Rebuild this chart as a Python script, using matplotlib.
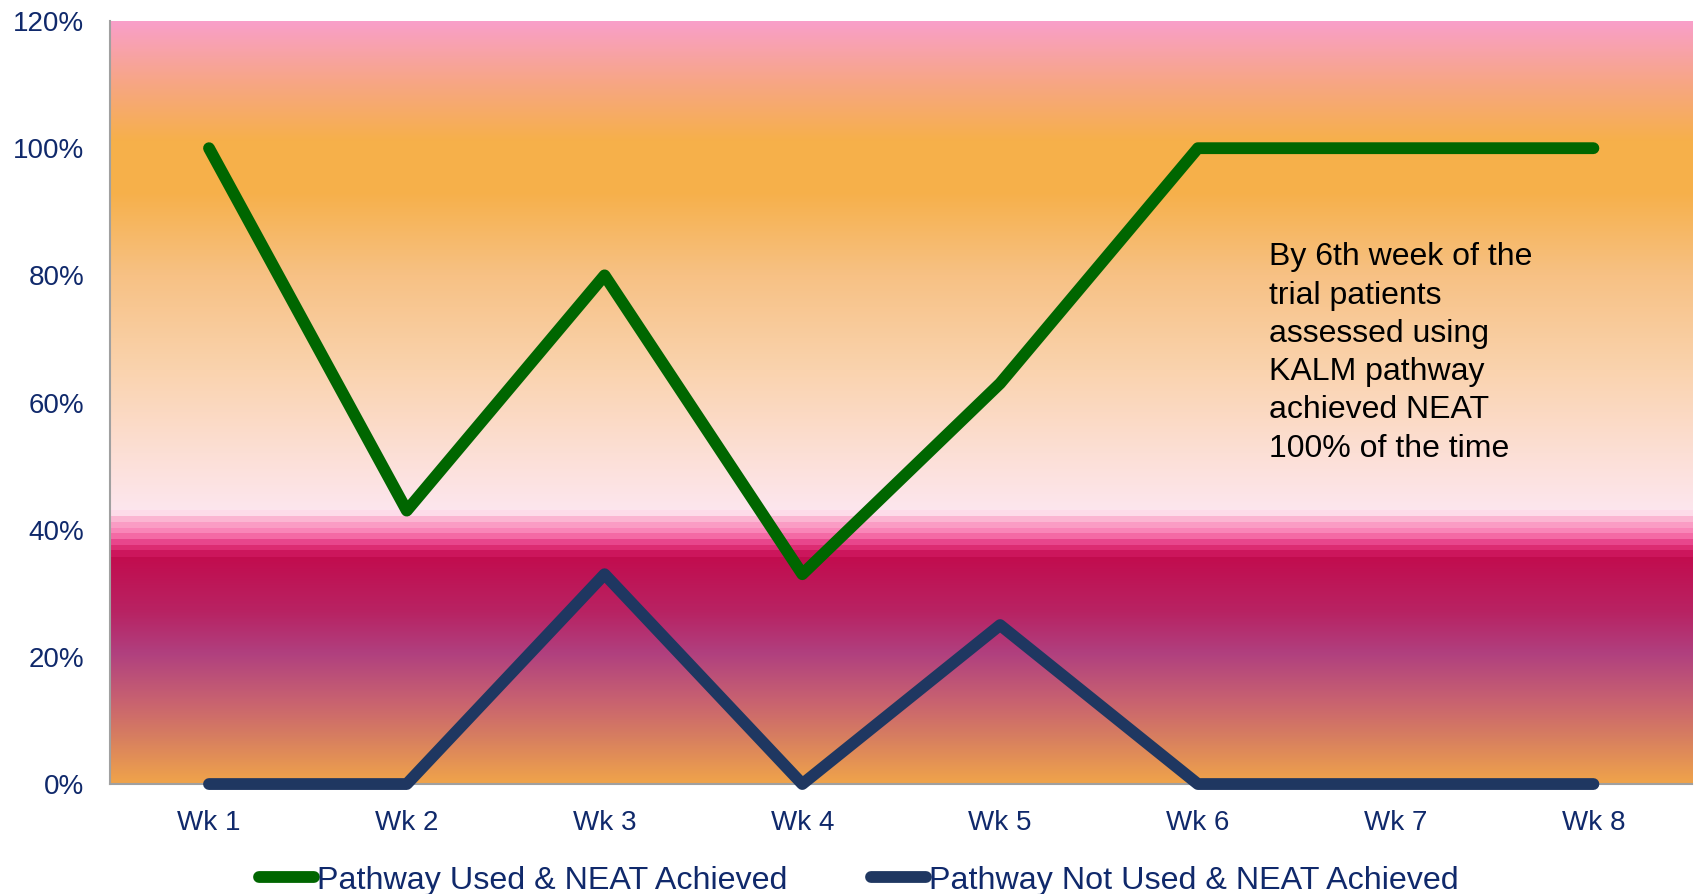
import matplotlib
matplotlib.use("Agg")
import matplotlib.pyplot as plt
import numpy as np
from matplotlib.colors import to_rgb
from matplotlib.lines import Line2D

plt.rcParams['font.family'] = ['Liberation Sans', 'DejaVu Sans']

# data
weeks = ['Wk 1', 'Wk 2', 'Wk 3', 'Wk 4', 'Wk 5', 'Wk 6', 'Wk 7', 'Wk 8']
used_achieved = [100, 43, 80, 33, 63, 100, 100, 100]
not_used_achieved = [0, 0, 33, 0, 25, 0, 0, 0]
series_names = ['Pathway Used & NEAT Achieved', 'Pathway Not Used & NEAT Achieved']
note = "By 6th week of the\ntrial patients\nassessed using\nKALM pathway\nachieved NEAT\n100% of the time"

green = '#006600'
navy = '#1F3761'
tick_col = '#10296B'

# background gradient stops (percent, colour)
stops = [
    (0, '#F0A44A'), (7, '#D8805F'), (13, '#C86270'), (20.5, '#B0407F'),
    (27, '#B82363'), (35.7, '#C20C4E'),
    (35.7, '#CC165C'), (36.7, '#CC165C'), (36.7, '#DC2C72'), (37.6, '#DC2C72'),
    (37.6, '#E8468C'), (38.5, '#E8468C'), (38.5, '#F46AA5'), (39.4, '#F46AA5'),
    (39.4, '#F986B8'), (40.2, '#F986B8'), (40.2, '#FA9CC4'), (41.2, '#FA9CC4'),
    (41.2, '#FBB6D2'), (42.1, '#FBB6D2'), (42.1, '#FDDCE9'), (43.0, '#FDDCE9'),
    (43.0, '#FDE6EE'), (52, '#FCDFD5'), (65, '#FAD3AE'), (80, '#F7C184'),
    (93, '#F6B04A'), (101, '#F6B04A'), (110, '#F7A683'), (120, '#F99FCB'),
]
pos = np.array([s[0] for s in stops])
cols = np.array([to_rgb(s[1]) for s in stops])
yy = np.linspace(0, 120, 1200)
grad = np.stack([np.interp(yy, pos, cols[:, k]) for k in range(3)], axis=-1)
grad = grad[:, None, :]

fig = plt.figure(figsize=(16.94, 8.94), dpi=100)
ax = fig.add_axes([0.065, 0.123, 0.934, 0.8535])

x = np.arange(len(weeks))
ax.imshow(grad, extent=(-0.5, len(weeks) - 0.5, 0, 120), origin='lower',
          aspect='auto', zorder=0, interpolation='nearest')

ax.plot(x, used_achieved, color=green, lw=8.5, solid_capstyle='round',
        solid_joinstyle='round', zorder=3)
ax.plot(x, not_used_achieved, color=navy, lw=8.5, solid_capstyle='round',
        solid_joinstyle='round', zorder=3, clip_on=False)

ax.set_xlim(-0.5, len(weeks) - 0.5)
ax.set_ylim(0, 120)
ax.set_yticks(np.arange(0, 121, 20))
ax.set_yticklabels([f'{v}%' for v in range(0, 121, 20)])
ax.set_xticks(x)
ax.set_xticklabels(weeks)
ax.tick_params(axis='both', length=0, labelsize=20, labelcolor=tick_col)
ax.tick_params(axis='y', pad=18.5)
ax.tick_params(axis='x', pad=19)

for side in ['top', 'right']:
    ax.spines[side].set_visible(False)
for side in ['left', 'bottom']:
    ax.spines[side].set_color('#A0A0A0')
    ax.spines[side].set_linewidth(1.5)

ax.text(5.36, 85.2, note, fontsize=23, color='black', va='top', ha='left',
        linespacing=1.36, zorder=4)

handles = [Line2D([], [], color=green, lw=8.5, solid_capstyle='round'),
           Line2D([], [], color=navy, lw=8.5, solid_capstyle='round')]
leg = fig.legend(handles, series_names, loc='center', bbox_to_anchor=(0.507, 0.015),
                 ncol=2, frameon=False, fontsize=23.2, handlelength=1.7,
                 handletextpad=0.1, columnspacing=2.6, borderaxespad=0)
for t in leg.get_texts():
    t.set_color(tick_col)

fig.savefig('out.png', dpi=100)
